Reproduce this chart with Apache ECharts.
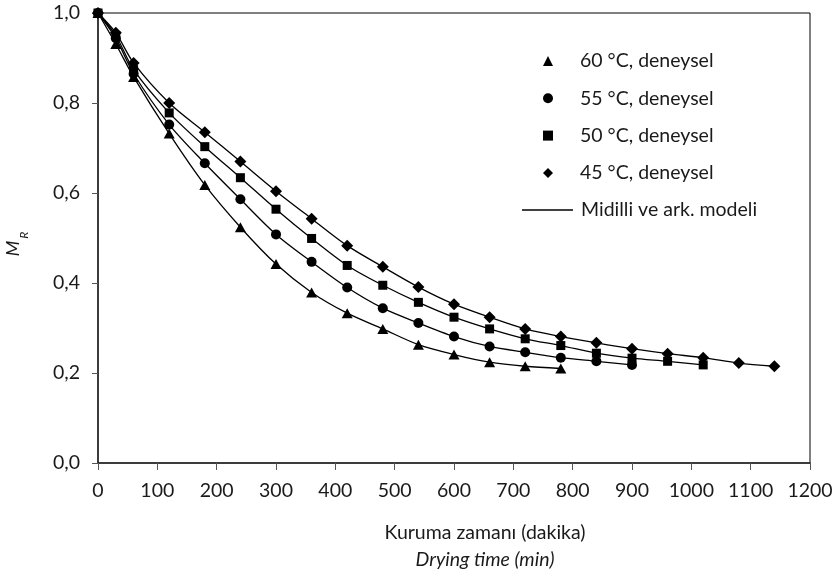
<!DOCTYPE html>
<html>
<head>
<meta charset="utf-8">
<script src="https://cdn.jsdelivr.net/npm/echarts@6/dist/echarts.min.js"></script>
<style>
html,body{margin:0;padding:0;background:#fff;}
#chart{width:832px;height:578px;}
</style>
</head>
<body>
<div id="chart"></div>
<script>
const t60 = [0,30,60,120,180,240,300,360,420,480,540,600,660,720,780];
const y60 = [1.0,0.931,0.858,0.732,0.618,0.524,0.442,0.379,0.333,0.298,0.263,0.241,0.224,0.215,0.210];
const t55 = [0,30,60,120,180,240,300,360,420,480,540,600,660,720,780,840,900];
const y55 = [1.0,0.944,0.865,0.752,0.666,0.586,0.508,0.447,0.390,0.344,0.311,0.281,0.259,0.246,0.234,0.226,0.218];
const t50 = [0,30,60,120,180,240,300,360,420,480,540,600,660,720,780,840,900,960,1020];
const y50 = [1.0,0.950,0.874,0.778,0.703,0.634,0.564,0.499,0.439,0.395,0.357,0.324,0.298,0.276,0.261,0.244,0.233,0.226,0.218];
const t45 = [0,30,60,120,180,240,300,360,420,480,540,600,660,720,780,840,900,960,1020,1080,1140];
const y45 = [1.0,0.956,0.889,0.800,0.735,0.670,0.604,0.543,0.483,0.436,0.391,0.353,0.324,0.298,0.281,0.267,0.254,0.243,0.234,0.222,0.215];

const seriesNames = ['60 °C, deneysel','55 °C, deneysel','50 °C, deneysel','45 °C, deneysel'];
const modelName = 'Midilli ve ark. modeli';
const xTicks = [0,100,200,300,400,500,600,700,800,900,1000,1100,1200];
const yTicks = [0,0.2,0.4,0.6,0.8,1.0];

const sets = [[t60,y60],[t55,y55],[t50,y50],[t45,y45]];
const symbols = ['triangle','circle','rect','diamond'];
const symSizes = [[11,10],10,9,12];

const pair = (t,y) => t.map((v,i)=>[v,y[i]]);
const FONT = 'Lato';
const FS = 19.5;
const TXT = '#1a1a1a';
const series = [];
sets.forEach((s,i)=>{
  series.push({
    name: modelName, type:'line', data: pair(s[0],s[1]),
    symbol:'none', smooth:0.3,
    lineStyle:{color:'#000', width:1.3}, itemStyle:{color:'#000'},
    z:2, silent:true
  });
});
sets.forEach((s,i)=>{
  series.push({
    name: seriesNames[i], type:'scatter', data: pair(s[0],s[1]),
    symbol: symbols[i], symbolSize: symSizes[i],
    itemStyle:{color:'#000', opacity:1}, z:5
  });
});

const chart = echarts.init(document.getElementById('chart'), null, {renderer:'canvas'});
chart.setOption({
  animation:false,
  backgroundColor:'#fff',
  textStyle:{fontFamily:FONT},
  grid:{left:98, right:22, top:13, bottom:115, show:true, borderColor:'#000', borderWidth:1, outerBoundsMode:'none', containLabel:false},
  legend:[{
    orient:'vertical', left:538, top:45, itemWidth:10, itemHeight:10, itemGap:15.3,
    selectedMode:false,
    data: seriesNames,
    textStyle:{fontFamily:FONT, fontSize:FS, color:TXT, lineHeight:22, padding:[0,0,0,22]}
  },{
    orient:'vertical', left:517, top:194, itemWidth:51, itemHeight:1.4,
    selectedMode:false,
    data:[{name:modelName, icon:'rect', itemStyle:{color:'#000'}}],
    textStyle:{fontFamily:FONT, fontSize:FS, color:TXT, lineHeight:22, padding:[0,0,0,3]}
  }],
  xAxis:{
    type:'value', min:0, max:1200, interval:100,
    axisLine:{show:true, onZero:false, lineStyle:{color:'#262626', width:1.5}},
    axisTick:{show:true, inside:false, length:7, lineStyle:{color:'#555'}},
    splitLine:{show:false},
    axisLabel:{color:TXT, fontSize:FS, margin:18, fontFamily:FONT,
      formatter: v => xTicks.includes(v) ? String(v) : ''},
    name:'{a|Kuruma zamanı (dakika)}\n{b|Drying time (min)}',
    nameLocation:'middle', nameGap:56,
    nameTextStyle:{padding:[0,0,0,62], rich:{
      a:{fontFamily:FONT, fontSize:FS, color:TXT, lineHeight:27},
      b:{fontFamily:FONT, fontSize:FS, fontStyle:'italic', color:TXT, lineHeight:27}
    }}
  },
  yAxis:{
    type:'value', min:0, max:1, interval:0.2,
    axisLine:{show:true, onZero:false, lineStyle:{color:'#262626', width:1.5}},
    axisTick:{show:true, inside:false, length:6, lineStyle:{color:'#555'}},
    splitLine:{show:false},
    axisLabel:{color:TXT, fontSize:FS, margin:18, fontFamily:FONT,
      formatter: v => { const m = yTicks.find(t=>Math.abs(t-v)<1e-9); return m===undefined ? '' : m.toFixed(1).replace('.', ','); }},
    name:'{m|M}{r|R}', nameLocation:'middle', nameRotate:90, nameGap:68,
    nameTextStyle:{padding:[0,12,0,0], rich:{
      m:{fontFamily:FONT, fontSize:18, fontStyle:'italic', color:TXT, lineHeight:34, verticalAlign:'middle'},
      r:{fontFamily:FONT, fontSize:12, fontStyle:'italic', color:TXT, lineHeight:12, verticalAlign:'bottom', padding:[0,0,0,2]}
    }}
  },
  series: series
});
</script>
</body>
</html>
